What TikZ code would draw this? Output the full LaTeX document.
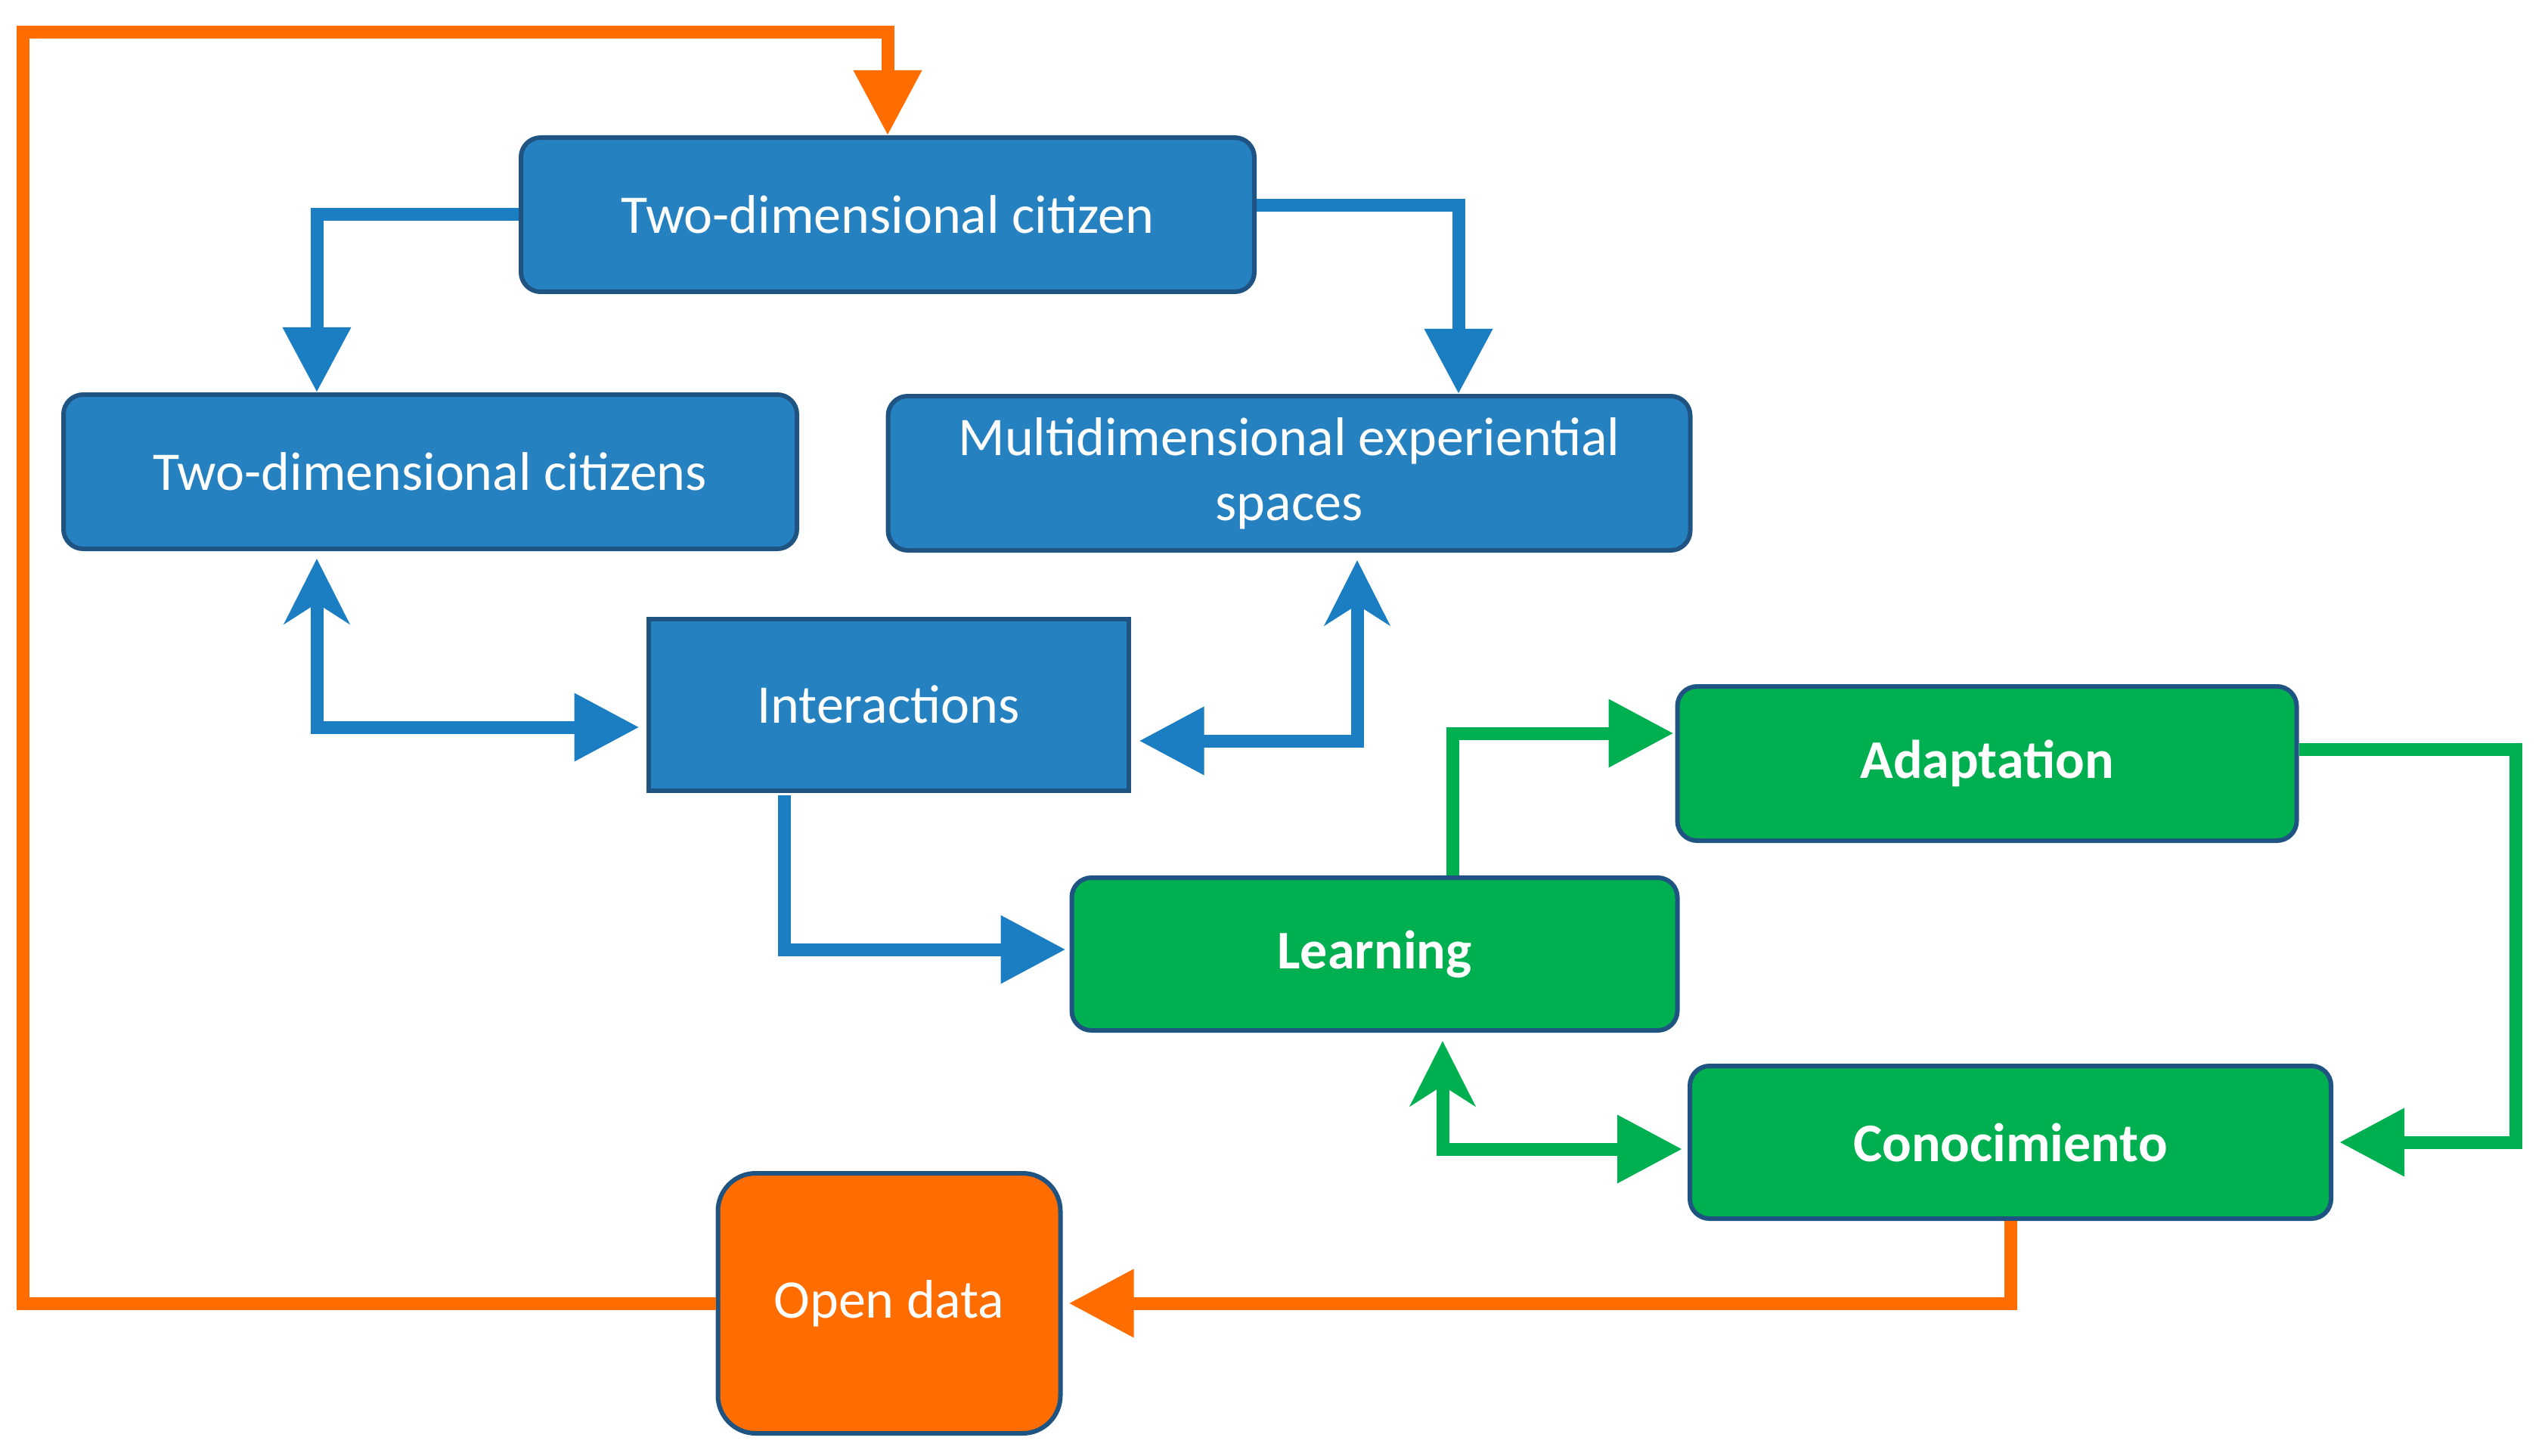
\documentclass[tikz,border=0pt]{standalone}
\usepackage{fontspec}
\setmainfont{Carlito}
\usepackage{tikz}
\usetikzlibrary{arrows,arrows.meta,shapes}
\usetikzlibrary{positioning}
\definecolor{bluefill}{RGB}{38,129,193}
\definecolor{blueline}{RGB}{27,126,194}
\definecolor{boxedge}{RGB}{31,84,130}
\definecolor{greenfill}{RGB}{0,176,80}
\definecolor{orangefill}{RGB}{255,108,0}
\tikzstyle{bluebox} = [draw=boxedge, fill=bluefill, rounded corners=0.26cm,
    line width=0.06cm, text=white, minimum height=2.04cm, inner sep=0pt,
    align=center, font=\fontsize{20.5}{25}\selectfont]
\tikzstyle{greenbox} = [bluebox, fill=greenfill,
    font=\fontsize{20.5}{25}\selectfont\bfseries]
\tikzstyle{link} = [line width=0.17cm, -{Triangle[length=0.86cm,width=0.86cm]}]
\tikzstyle{twoway} = [line width=0.17cm,
    {Stealth[length=0.86cm,width=0.86cm,inset=0.27cm]}-{Triangle[length=0.86cm,width=0.86cm]}]

\begin{document}
\begin{tikzpicture}
  \useasboundingbox (0,0) rectangle (33.66,-19.26);
  % Place nodes
  \node [bluebox, minimum width=9.7cm] (cit) at (11.74,-2.84) {Two-dimensional citizen};
  \node [bluebox, minimum width=9.7cm] (cits) at (5.69,-6.24) {Two-dimensional citizens};
  \node [bluebox, minimum width=10.61cm, font=\fontsize{20.5}{24.5}\selectfont] (multi) at (17.05,-6.26)
  {Multidimensional experiential\\spaces};
  \node [bluebox, rounded corners=0pt, minimum width=6.35cm, minimum height=2.27cm] (inter) at (11.75,-9.32) {Interactions};
  \node [greenbox, minimum width=8.19cm] (adapt) at (26.28,-10.10) {Adaptation};
  \node [greenbox, minimum width=8.01cm, minimum height=2.02cm] (learn) at (18.18,-12.62) {Learning};
  \node [greenbox, minimum width=8.48cm, minimum height=2.02cm] (cono) at (26.59,-15.11) {Conocimiento};
  \node [bluebox, fill=orangefill, rounded corners=0.5cm, minimum width=4.53cm, minimum height=3.44cm] (open) at (11.76,-17.24) {Open data};
  \coordinate (loopL) at (0.30,-0.43);

  % Connectors
  \draw [link, orangefill] (open.west) -| (loopL) -| (cit.north);
  \draw [link, blueline] (cit.west) -| ([xshift=-1.5cm]cits.north);
  \draw [link, blueline] ([yshift=0.12cm]cit.east) -| ([xshift=2.24cm]multi.north);
  \draw [twoway, blueline, shorten <=0.1cm, shorten >=0.09cm] ([xshift=-1.5cm]cits.south) |- ([yshift=-0.3cm]inter.west);
  \draw [twoway, blueline, shorten <=0.1cm, shorten >=0.11cm] ([xshift=0.9cm]multi.south) |- ([yshift=-0.48cm]inter.east);
  \draw [link, blueline, shorten <=0.03cm, shorten >=0.05cm] ([xshift=-1.375cm]inter.south) |- ([yshift=0.06cm]learn.west);
  \draw [link, greenfill, shorten >=0.02cm] ([xshift=1.035cm]learn.north) |- ([yshift=0.4cm]adapt.west);
  \draw [link, greenfill, shorten >=0.08cm] ([yshift=0.19cm]adapt.east) -| ([xshift=2.41cm]cono.east) -- (cono.east);
  \draw [twoway, greenfill, shorten <=0.11cm, shorten >=0.07cm] ([xshift=0.9cm]learn.south) |- ([yshift=-0.09cm]cono.west);
  \draw [link, orangefill, shorten >=0.08cm] (cono.south) |- (open.east);
\end{tikzpicture}
\end{document}
